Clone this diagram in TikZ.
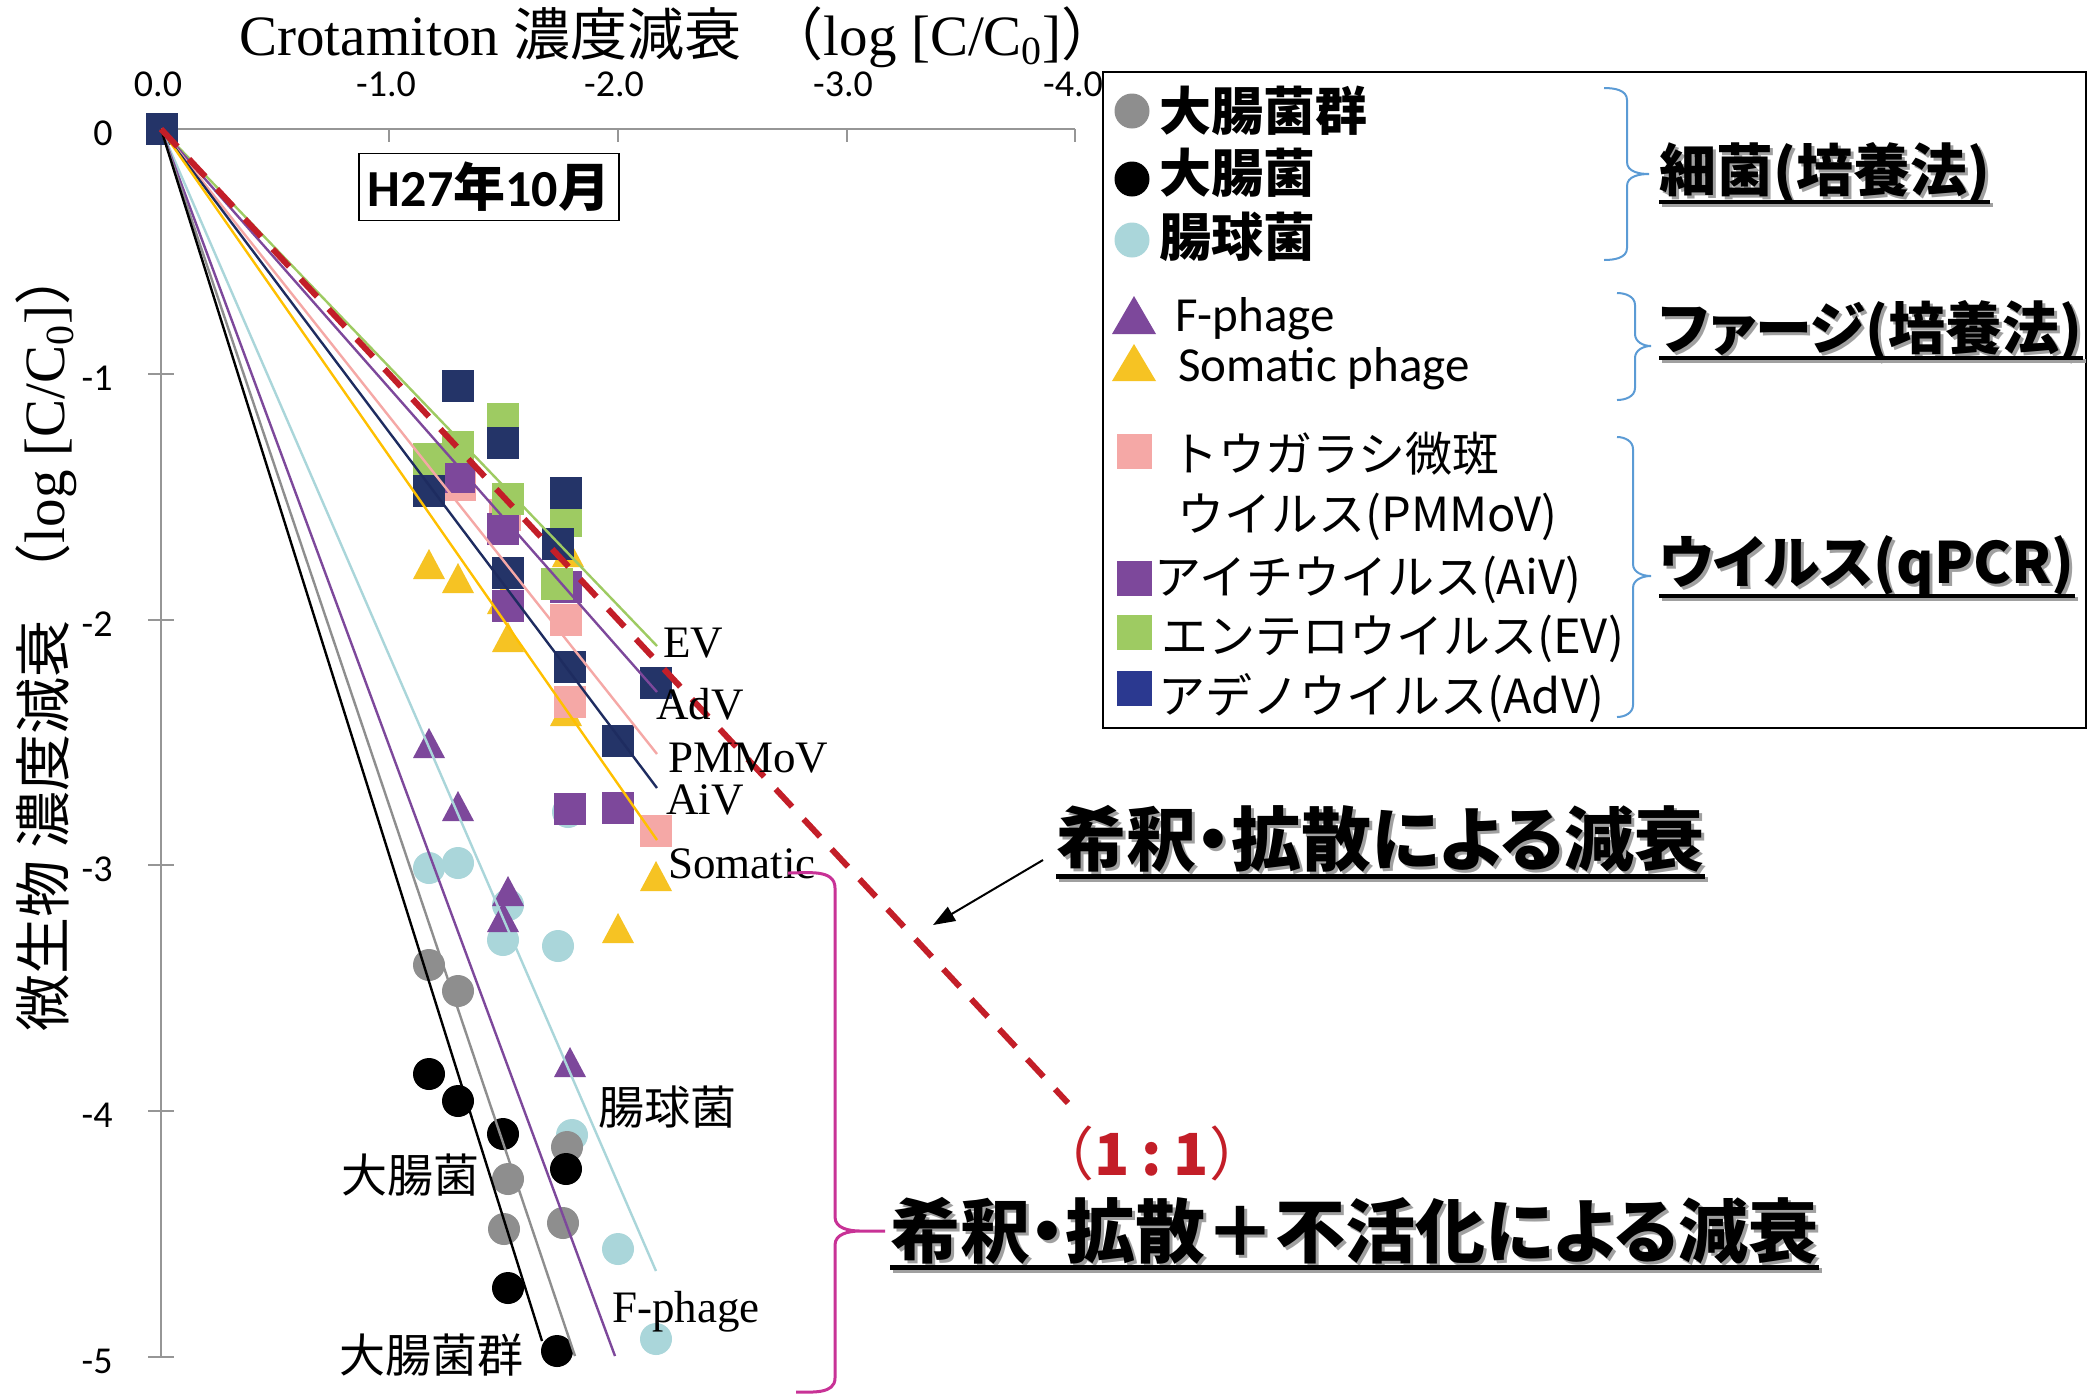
\documentclass[tikz,border=0pt]{standalone}
\usepackage{fontspec}
\setmainfont{Liberation Serif}
\newfontfamily\jp{Noto Sans CJK JP}
\newfontfamily\jpp[RawFeature=+palt]{Noto Sans CJK JP}
\newfontfamily\crl{Carlito}
\usetikzlibrary{arrows.meta}
\newcommand\fsz[1]{\fontsize{#1}{#1}\selectfont}
\definecolor{navyc}{RGB}{36,52,104}
\definecolor{navyl}{RGB}{30,44,96}
\definecolor{greenc}{RGB}{158,203,98}
\definecolor{purpc}{RGB}{125,72,155}
\definecolor{pinkc}{RGB}{245,168,166}
\definecolor{yellc}{RGB}{246,195,35}
\definecolor{yelll}{RGB}{255,192,0}
\definecolor{lbluec}{RGB}{170,214,218}
\definecolor{grayc}{RGB}{142,142,142}
\definecolor{redc}{RGB}{195,30,40}
\definecolor{magc}{RGB}{200,50,150}
\definecolor{bracec}{RGB}{91,155,213}
\definecolor{axisc}{RGB}{150,150,150}
\definecolor{advleg}{RGB}{43,57,144}
\definecolor{shadc}{RGB}{160,160,160}
\tikzset{
 ticklab/.style={font=\crl\fsz{19}, inner sep=0pt},
 ser/.style={font=\fsz{22.5}, inner sep=0pt, anchor=base west},
 jlab/.style={font=\jp\fsz{23}, inner sep=0pt},
 legb/.style={font=\jp\bfseries\fsz{26}, inner sep=0pt, anchor=west},
 legj/.style={font=\jp\fsz{23.5}, inner sep=0pt, anchor=west},
 legc/.style={font=\crl\fsz{24.5}, inner sep=0pt, anchor=base west},
 glab/.style={font=\jpp\bfseries\fsz{28.5}, inner sep=0pt, anchor=west},
 bigl/.style={font=\jpp\bfseries\fsz{35}, inner sep=0pt, anchor=west},
 bracel/.style={draw=bracec, line width=1pt},
 fitline/.style={line width=1.2pt},
}
\begin{document}
\begin{tikzpicture}[x=0.5pt,y=-0.5pt]
\useasboundingbox (0,0) rectangle (2098,1394);
\fill[white] (0,0) rectangle (2098,1394);
% axes
\draw[axisc, line width=1.2pt] (161,129) -- (1075,129);
\foreach \x in {389,618,847,1075} \draw[axisc, line width=1.2pt] (\x,129) -- (\x,142);
\draw[axisc, line width=1pt] (161,129) -- (161,1357);
\foreach \y in {374,620,865,1111,1357} \draw[axisc, line width=1pt] (148,\y) -- (174,\y);
\foreach \x/\t [count=\i] in {158/0.0, 386/-1.0, 614/-2.0, 843/-3.0, 1073/-4.0}
  \node[ticklab] (xt\i) at (\x,84) {\t};
\foreach \y/\t [count=\i] in {133/0, 378/-1, 624/-2, 869/-3, 1115/-4, 1361/-5}
  \node[ticklab, anchor=east] (yt\i) at (113,\y) {\t};
% titles
\node[font=\fsz{28.5}, inner sep=0pt, anchor=base west] (xtitle) at (239,55)
  {Crotamiton {\jp 濃度減衰\hspace{0.45em}（}log [C/C\textsubscript{0}]{\jp ）}};
\node[font=\fsz{28.5}, inner sep=0pt, rotate=90] (ytitle) at (46,640)
  {{\jp 微生物 濃度減衰\hspace{0.35em}（}log [C/C\textsubscript{0}]{\jp ）}};
% date box
\node[draw, line width=0.8pt, minimum width=130pt, minimum height=33.5pt, inner sep=0pt] (date) at (489,187)
  {\fsz{26}\bfseries{\crl H27}{\jp 年}{\crl 10}{\jp 月}};
% markers
\foreach \x/\y in {568/812,429/868,458/863,508/905,503/940,558/946,572/1135,618/1249,656/1339}
  \fill[lbluec] (\x,\y) circle[radius=16];
\foreach \x/\y in {429/965,458/991,567/1147,508/1179,504/1229,563/1223}
  \fill[grayc] (\x,\y) circle[radius=16];
\foreach \x/\y in {429/1074,458/1101,503/1134,566/1169,508/1288,557/1351}
  \fill[black] (\x,\y) circle[radius=16];
\foreach \x/\y in {429/744,458/807,508/892,503/918,570/1063}
  \fill[purpc] (\x,\y-16) -- (\x+16,\y+14) -- (\x-16,\y+14) -- cycle;
\foreach \x/\y in {429/565,458/579,568/553,503/600,508/638,566/712,656/877,618/929}
  \fill[yellc] (\x,\y-16) -- (\x+16,\y+14) -- (\x-16,\y+14) -- cycle;
\foreach \x/\y in {460/485,505/515,566/620,570/702,656/831}
  \fill[pinkc] (\x-16,\y-16) rectangle (\x+16,\y+16);
\foreach \x/\y in {459/477,503/529,508/606,566/587,570/809,618/808}
  \fill[purpc] (\x-16,\y-16) rectangle (\x+16,\y+16);
\foreach \x/\y in {503/419,429/459,458/447,508/499,566/521,557/584}
  \fill[greenc] (\x-16,\y-16) rectangle (\x+16,\y+16);
\foreach \x/\y in {458/386,503/443,429/491,566/493,558/544,508/573,570/667,618/741,656/683,162/129}
  \fill[navyc] (\x-16,\y-16) rectangle (\x+16,\y+16);
% fitted lines
\coordinate (O) at (161,129);
\coordinate (eEV) at (657,646);
\coordinate (eP) at (657,692);
\coordinate (ePM) at (657,754);
\coordinate (eN) at (657,788);
\coordinate (eS) at (657,840);
\coordinate (eLB) at (656,1271);
\coordinate (eF) at (615,1356);
\coordinate (eG) at (575,1356);
\coordinate (eB) at (542,1341);
\coordinate (eR) at (1068,1103);
\draw[fitline, greenc] (O) -- (eEV);
\draw[fitline, purpc] (O) -- (eP);
\draw[fitline, pinkc] (O) -- (ePM);
\draw[fitline, navyl] (O) -- (eN);
\draw[fitline, yelll] (O) -- (eS);
\draw[fitline, lbluec] (O) -- (eLB);
\draw[fitline, purpc] (O) -- (eF);
\draw[fitline, grayc] (O) -- (eG);
\draw[fitline, black] (O) -- (eB);
\draw[redc, line width=3pt, dash pattern=on 12pt off 8.5pt] (O) -- (eR);
% series labels
\node[ser] (lEV) at (663,657) {EV};
\node[ser] (lAdV) at (656,719) {AdV};
\node[ser] (lPM) at (668,772) {PMMoV};
\node[ser] (lAiV) at (666,814) {AiV};
\node[ser] (lSom) at (668,878) {Somatic};
\node[ser] (lF) at (612,1322) {F-phage};
\node[jlab] (lEnt) at (667,1107) {腸球菌};
\node[jlab] (lEc) at (410,1175) {大腸菌};
\node[jlab] (lCol) at (431,1355) {大腸菌群};
% legend
\draw[line width=1pt, fill=white] (1103,72) rectangle (2086,728);
\fill[grayc] (1132,111) circle[radius=17.5];
\fill[black] (1132,179) circle[radius=17.5];
\fill[lbluec] (1132,240) circle[radius=17.5];
\fill[purpc] (1134,296) -- (1156,334) -- (1112,334) -- cycle;
\fill[yellc] (1134,344) -- (1156,381) -- (1112,381) -- cycle;
\fill[pinkc] (1117,434) rectangle (1152,469);
\fill[purpc] (1117,561) rectangle (1152,596);
\fill[greenc] (1117,615) rectangle (1152,650);
\fill[advleg] (1117,671) rectangle (1152,706);
\node[legb] (k1) at (1159,111) {大腸菌群};
\node[legb] (k2) at (1159,173) {大腸菌};
\node[legb] (k3) at (1159,237) {腸球菌};
\node[legc] (k4) at (1175,331) {F-phage};
\node[legc] (k5) at (1178,381) {Somatic phage};
\node[legj] (k6) at (1171,454) {トウガラシ微斑};
\node[legj] (k7) at (1177,517) {ウイルス(PMMoV)};
\node[legj] (k8) at (1154,580) {アイチウイルス(AiV)};
\node[legj] (k9) at (1161,639) {エンテロウイルス(EV)};
\node[legj] (k10) at (1158,698) {アデノウイルス(AdV)};
% legend braces
\draw[bracel] (1604,88) to[out=0,in=90] (1627,100) -- (1627,162) to[out=-90,in=180] (1649,174)
  to[out=180,in=90] (1627,186) -- (1627,248) to[out=-90,in=0] (1604,260);
\draw[bracel] (1617,293) to[out=0,in=90] (1635,305) -- (1635,334) to[out=-90,in=180] (1651,346)
  to[out=180,in=90] (1635,358) -- (1635,388) to[out=-90,in=0] (1617,400);
\draw[bracel] (1617,437) to[out=0,in=90] (1633,449) -- (1633,564) to[out=-90,in=180] (1651,576)
  to[out=180,in=90] (1633,588) -- (1633,705) to[out=-90,in=0] (1617,717);
% group labels with shadow
\node[glab, text=shadc] (g1s) at (1662,176) {細菌(培養法)};
\node[glab] (g1) at (1659,173) {細菌(培養法)};
\node[glab, text=shadc] (g2s) at (1662,334) {ファージ(培養法)};
\node[glab] (g2) at (1659,331) {ファージ(培養法)};
\node[glab, text=shadc] (g3s) at (1662,568) {ウイルス(qPCR)};
\node[glab] (g3) at (1659,565) {ウイルス(qPCR)};
\draw[shadc, line width=2pt] (g1s.west |- 0,205) -- (g1s.east |- 0,205);
\draw[line width=2pt] (g1.west |- 0,202) -- (g1.east |- 0,202);
\draw[shadc, line width=2pt] (g2s.west |- 0,361) -- (g2s.east |- 0,361);
\draw[line width=2pt] (g2.west |- 0,358) -- (g2.east |- 0,358);
\draw[shadc, line width=2pt] (g3s.west |- 0,599) -- (g3s.east |- 0,599);
\draw[line width=2pt] (g3.west |- 0,596) -- (g3.east |- 0,596);
% annotations
\node[bigl, text=shadc] (a1s) at (1059,842) {希釈・拡散による減衰};
\node[bigl] (a1) at (1056,839) {希釈・拡散による減衰};
\draw[shadc, line width=2.5pt] (a1s.west |- 0,879) -- (a1s.east |- 0,879);
\draw[line width=2.5pt] (a1.west |- 0,876) -- (a1.east |- 0,876);
\coordinate (arS) at (1043,860);
\coordinate (arE) at (933,925);
\draw[line width=1pt, -{Triangle[length=11pt,width=8pt]}] (arS) -- (arE);
\node[font=\jp\fsz{29}, text=redc, inner sep=0pt] (ratio) at (1152,1153)
  {（{\bfseries 1\hspace{0.2em}:\hspace{0.2em}1}）};
\node[bigl, text=shadc] (a2s) at (893,1234) {希釈・拡散＋不活化による減衰};
\node[bigl] (a2) at (890,1231) {希釈・拡散＋不活化による減衰};
\draw[shadc, line width=2.5pt] (a2s.west |- 0,1270) -- (a2s.east |- 0,1270);
\draw[line width=2.5pt] (a2.west |- 0,1267) -- (a2.east |- 0,1267);
% magenta brace
\draw[magc, line width=1.5pt] (788,873) to[out=0,in=90] (835,888) -- (835,1217) to[out=-90,in=180] (860,1231) -- (885,1231)
  (860,1231) to[out=180,in=90] (835,1245) -- (835,1378) to[out=-90,in=0] (796,1392);
\end{tikzpicture}
\end{document}
